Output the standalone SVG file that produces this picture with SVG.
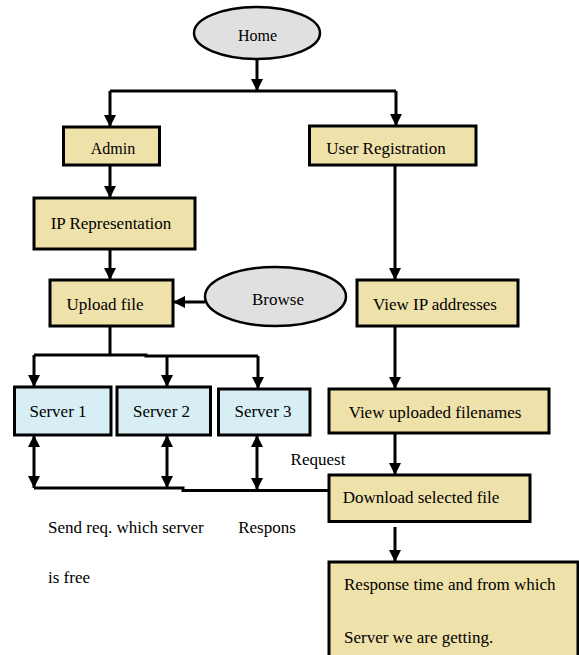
<svg xmlns="http://www.w3.org/2000/svg" width="579" height="655" viewBox="0 0 579 655">
<style>
.box{fill:#EFE1AA;stroke:#000;stroke-width:3}
.srv{fill:#D7EEF4;stroke:#000;stroke-width:3}
.ell{fill:#E0E0E0;stroke:#000;stroke-width:2.5}
.c{fill:none;stroke:#000;stroke-width:3}
.a{marker-end:url(#ah)}
.d{marker-start:url(#ah);marker-end:url(#ah)}
text{font-family:"Liberation Serif","Times New Roman",serif;font-size:17px;fill:#000}
.m{text-anchor:middle}
</style>
<defs>
<marker id="ah" viewBox="0 0 12 12" refX="12" refY="6" markerWidth="12" markerHeight="12" markerUnits="userSpaceOnUse" orient="auto-start-reverse">
<path d="M0,0 L12,6 L0,12 z" fill="#000"/>
</marker>
</defs>
<g id="connectors">
<path class="c a" d="M257,59 V91"/>
<path class="c" d="M110,91 H396"/>
<path class="c a" d="M110,91 V127"/>
<path class="c a" d="M396,91 V126"/>
<path class="c a" d="M110,165 V198"/>
<path class="c a" d="M110,249 V280"/>
<path class="c a" d="M205,302 H173"/>
<path class="c a" d="M395,165 V280"/>
<path class="c a" d="M395,326 V389"/>
<path class="c" d="M110,326 V355"/>
<path class="c" d="M34,355 H146 V356 H258"/>
<path class="c a" d="M34,355 V387"/>
<path class="c a" d="M167,356 V387"/>
<path class="c a" d="M258,356 V389"/>
<path class="c d" d="M34,435 V488"/>
<path class="c d" d="M167,435 V488"/>
<path class="c d" d="M257,435 V490"/>
<path class="c" d="M34,488 H183 V490.5 H329"/>
<path class="c a" d="M395,433 V475"/>
<path class="c a" d="M395,527 V562"/>
</g>
<g id="home"><ellipse class="ell" cx="257" cy="33" rx="63" ry="26"/><text class="m" x="257.5" y="41" style="font-size:16px">Home</text></g>
<g id="admin"><rect class="box" x="63.5" y="127" width="96" height="38"/><text class="m" x="113" y="154" style="font-size:16px">Admin</text></g>
<g id="user-registration"><rect class="box" x="309.5" y="126" width="166.5" height="39"/><text class="m" x="386" y="154">User Registration</text></g>
<g id="ip-representation"><rect class="box" x="34" y="198" width="161" height="51"/><text class="m" x="111" y="229">IP Representation</text></g>
<g id="upload-file"><rect class="box" x="50" y="280" width="123" height="46"/><text class="m" x="105" y="310">Upload file</text></g>
<g id="browse"><ellipse class="ell" cx="275.5" cy="296.5" rx="70.5" ry="29.5"/><text class="m" x="278" y="305">Browse</text></g>
<g id="view-ip"><rect class="box" x="357" y="280" width="161" height="46"/><text class="m" x="435" y="310">View IP addresses</text></g>
<g id="server1"><rect class="srv" x="14.5" y="387" width="96.5" height="48"/><text class="m" x="58" y="417">Server 1</text></g>
<g id="server2"><rect class="srv" x="117" y="387" width="93.5" height="48"/><text class="m" x="161.5" y="417">Server 2</text></g>
<g id="server3"><rect class="srv" x="218.5" y="389" width="91.5" height="46"/><text class="m" x="263" y="417">Server 3</text></g>
<g id="view-uploaded"><rect class="box" x="329" y="389" width="220" height="44"/><text class="m" x="435" y="418">View uploaded filenames</text></g>
<g id="download"><rect class="box" x="329" y="475" width="201" height="46.5"/><text class="m" x="421" y="503">Download selected file</text></g>
<g id="response"><rect class="box" x="329" y="562" width="249" height="100"/><text x="344" y="590">Response time and from which</text><text x="344" y="643">Server we are getting.</text></g>
<g id="labels">
<text class="m" x="318" y="465">Request</text>
<text x="48" y="533">Send req. which server</text>
<text class="m" x="267" y="533">Respons</text>
<text x="48" y="583">is free</text>
</g>
</svg>
